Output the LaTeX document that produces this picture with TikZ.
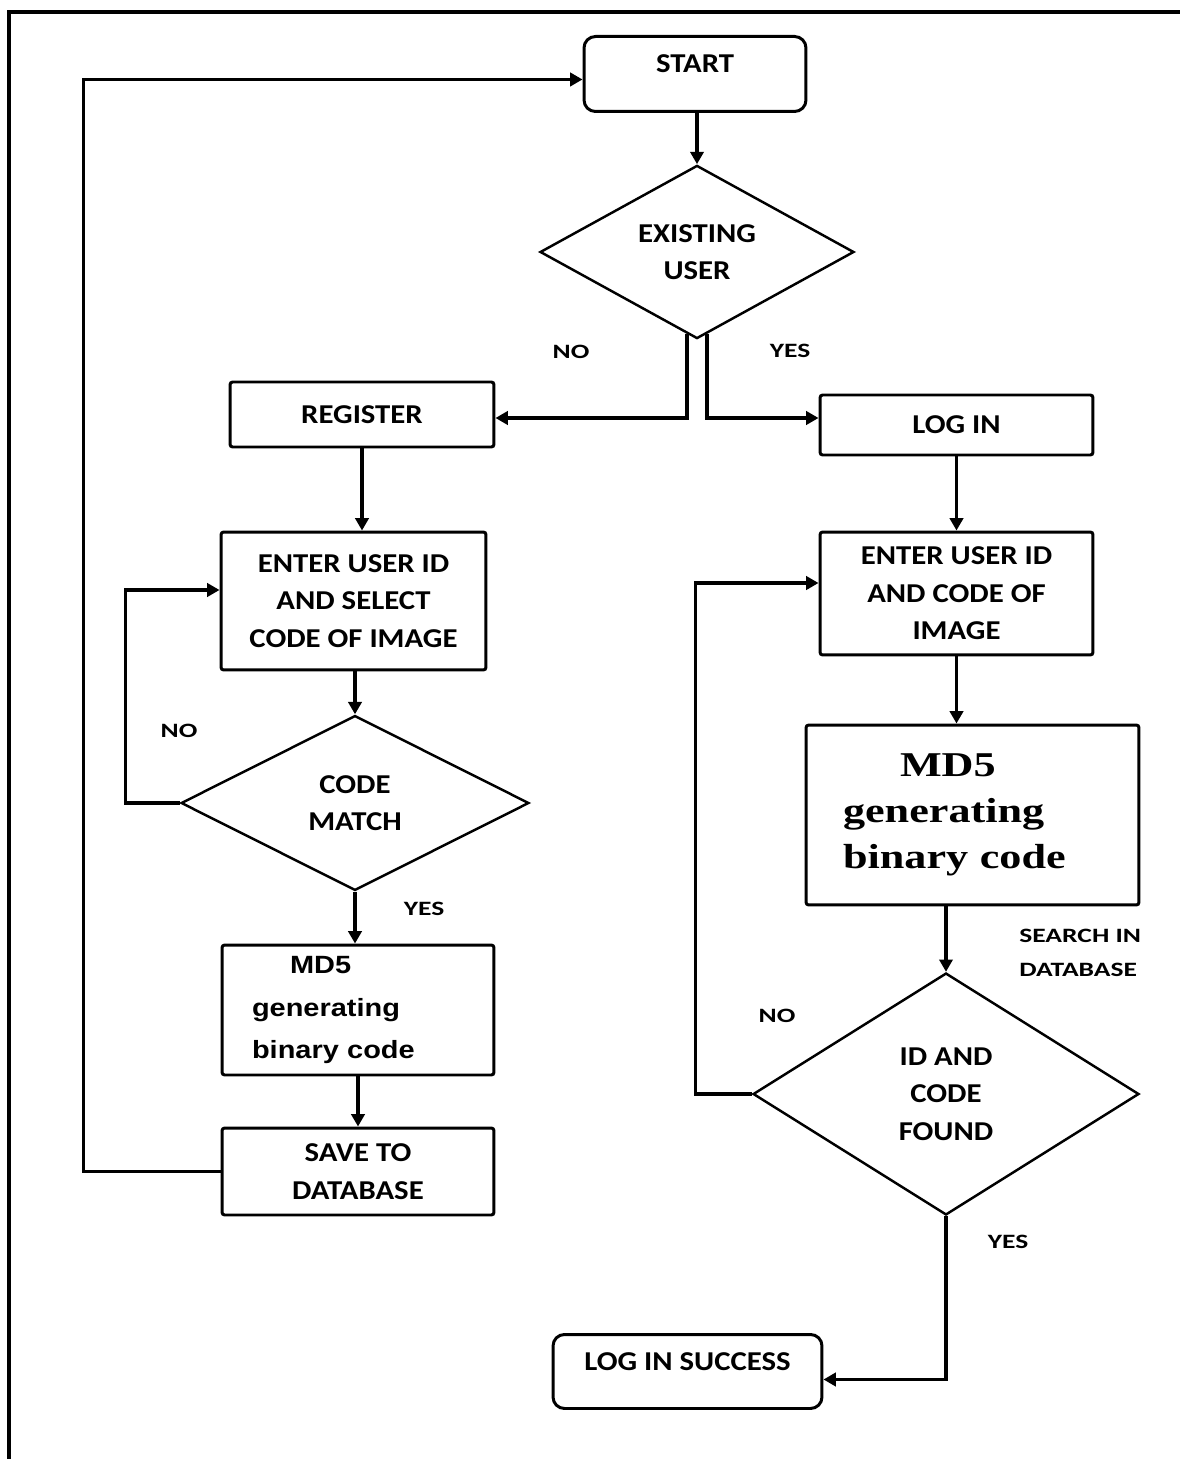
\documentclass[tikz,border=0pt]{standalone}
\usepackage{fontspec}
\setmainfont{Carlito}
\newfontfamily\kfont{Carlito}[FakeStretch=1.13]
\newfontfamily\lfont{Carlito}[FakeStretch=1.35]
\newfontfamily\afont{Liberation Sans}[FakeStretch=1.16]
\newfontfamily\tfont{Liberation Serif}[FakeStretch=1.27]
\usetikzlibrary{arrows.meta,positioning,calc,shapes.geometric}
\tikzset{
  lepes/.style={draw,line width=1.7pt,rounded corners=1.5pt,inner sep=0pt,align=center,
                font=\kfont\bfseries\fontsize{15.5}{21.3}\selectfont},
  kezd/.style={lepes,rounded corners=6.5pt},
  dontes/.style={draw,diamond,line width=1.4pt,inner sep=0pt,align=center,
                 font=\kfont\bfseries\fontsize{15.5}{21.3}\selectfont},
  vonal/.style={line width=1.8pt,-{Triangle[length=7pt,width=7.5pt]}},
  felirat/.style={font=\lfont\bfseries\fontsize{11.6}{19.3}\selectfont,align=left,inner sep=0pt},
  keret/.style={line width=2pt},
}

\begin{document}
\begin{tikzpicture}[x=0.02cm,y=-0.02cm]
  \useasboundingbox (0,0) rectangle (1180,1459);
  \fill[white] (0,0) rectangle (1180,1459);
  \draw[keret] (9,1459) -- (9,12) -- (1180,12);

  \node[kezd,minimum width=4.44cm,text height=0.72cm,text depth=0.78cm,anchor=north] (start) at (695,35) {START};
  \node[dontes,minimum width=6.28cm,minimum height=3.2cm] (exist) at (697,252) {EXISTING\\USER};
  \node[lepes,minimum width=5.28cm,minimum height=1.3cm] (reg) at (362,414.5) {REGISTER};
  \node[lepes,minimum width=5.46cm,minimum height=1.2cm] (login) at (956.5,425) {LOG IN};
  \node[lepes,minimum width=5.3cm,minimum height=2.76cm] (idl) at (353.5,601) {ENTER USER ID\\AND SELECT\\CODE OF IMAGE};
  \node[dontes,minimum width=6.96cm,minimum height=3.5cm] (match) at (355,803) {CODE\\MATCH};
  \node[lepes,font=\afont\bfseries\fontsize{14.2}{24.4}\selectfont,align=left,text width=4.24cm,
        inner xsep=0.6cm,minimum height=2.6cm] (md5l) at (358,1010) {\hspace*{0.76cm}MD5\\generating\\binary code};
  \node[lepes,minimum width=5.44cm,minimum height=1.74cm] (save) at (358,1171.5) {SAVE TO\\DATABASE};
  \node[lepes,minimum width=5.46cm,minimum height=2.46cm] (idr) at (956.5,593.5) {ENTER USER ID\\AND CODE OF\\IMAGE};
  \node[lepes,font=\tfont\bfseries\fontsize{19.8}{26}\selectfont,align=left,text width=5.18cm,
        inner xsep=0.74cm,minimum height=3.6cm] (md5r) at (972.5,815) {\hspace*{1.14cm}MD5\\generating\\binary code};
  \node[dontes,minimum width=7.72cm,minimum height=4.84cm] (found) at (946,1094) {ID AND\\CODE\\FOUND};
  \node[kezd,minimum width=5.38cm,text height=0.72cm,text depth=0.76cm,anchor=north] (ok) at (687.5,1333) {LOG IN SUCCESS};

  \node[felirat] (no1) at (571,352) {NO};
  \node[felirat] (yes1) at (790,351) {YES};
  \node[felirat] (no2) at (179,731) {NO};
  \node[felirat] (yes2) at (424,909) {YES};
  \node[felirat,anchor=west] (srch) at (1019,953) {SEARCH IN\\DATABASE};
  \node[felirat] (no3) at (777,1016) {NO};
  \node[felirat] (yes3) at (1008,1242) {YES};

  \coordinate (fork) at (695,418);
  \draw[vonal] (start.south -| exist.north) -- (exist.north);
  \draw[vonal] ([xshift=-0.2cm,yshift=0.12cm]exist.south) |- (reg.east |- fork);
  \draw[vonal] ([xshift=0.2cm,yshift=0.12cm]exist.south) |- (login.west |- fork);
  \draw[vonal] (reg.south) -- (reg.south |- idl.north);
  \draw[vonal] (idl.south -| match.north) -- (match.north);
  \draw[vonal] (match.west) -- ++(-54,0) |- ([yshift=0.22cm]idl.west);
  \draw[vonal] (match.south) -- (match.south |- md5l.north);
  \draw[vonal] (md5l.south) -- (save.north);
  \draw[vonal] (save.west) -- ++(-137,0) |- ([yshift=-0.11cm]start.west);
  \draw[vonal] (login.south) -- (idr.north);
  \draw[vonal] (idr.south) -- (idr.south |- md5r.north);
  \draw[vonal] (md5r.south -| found.north) -- (found.north);
  \draw[vonal] (found.west) -- ++(-56,0) |- ([yshift=0.21cm]idr.west);
  \draw[vonal] (found.south) |- ([yshift=-0.16cm]ok.east);
\end{tikzpicture}
\end{document}
